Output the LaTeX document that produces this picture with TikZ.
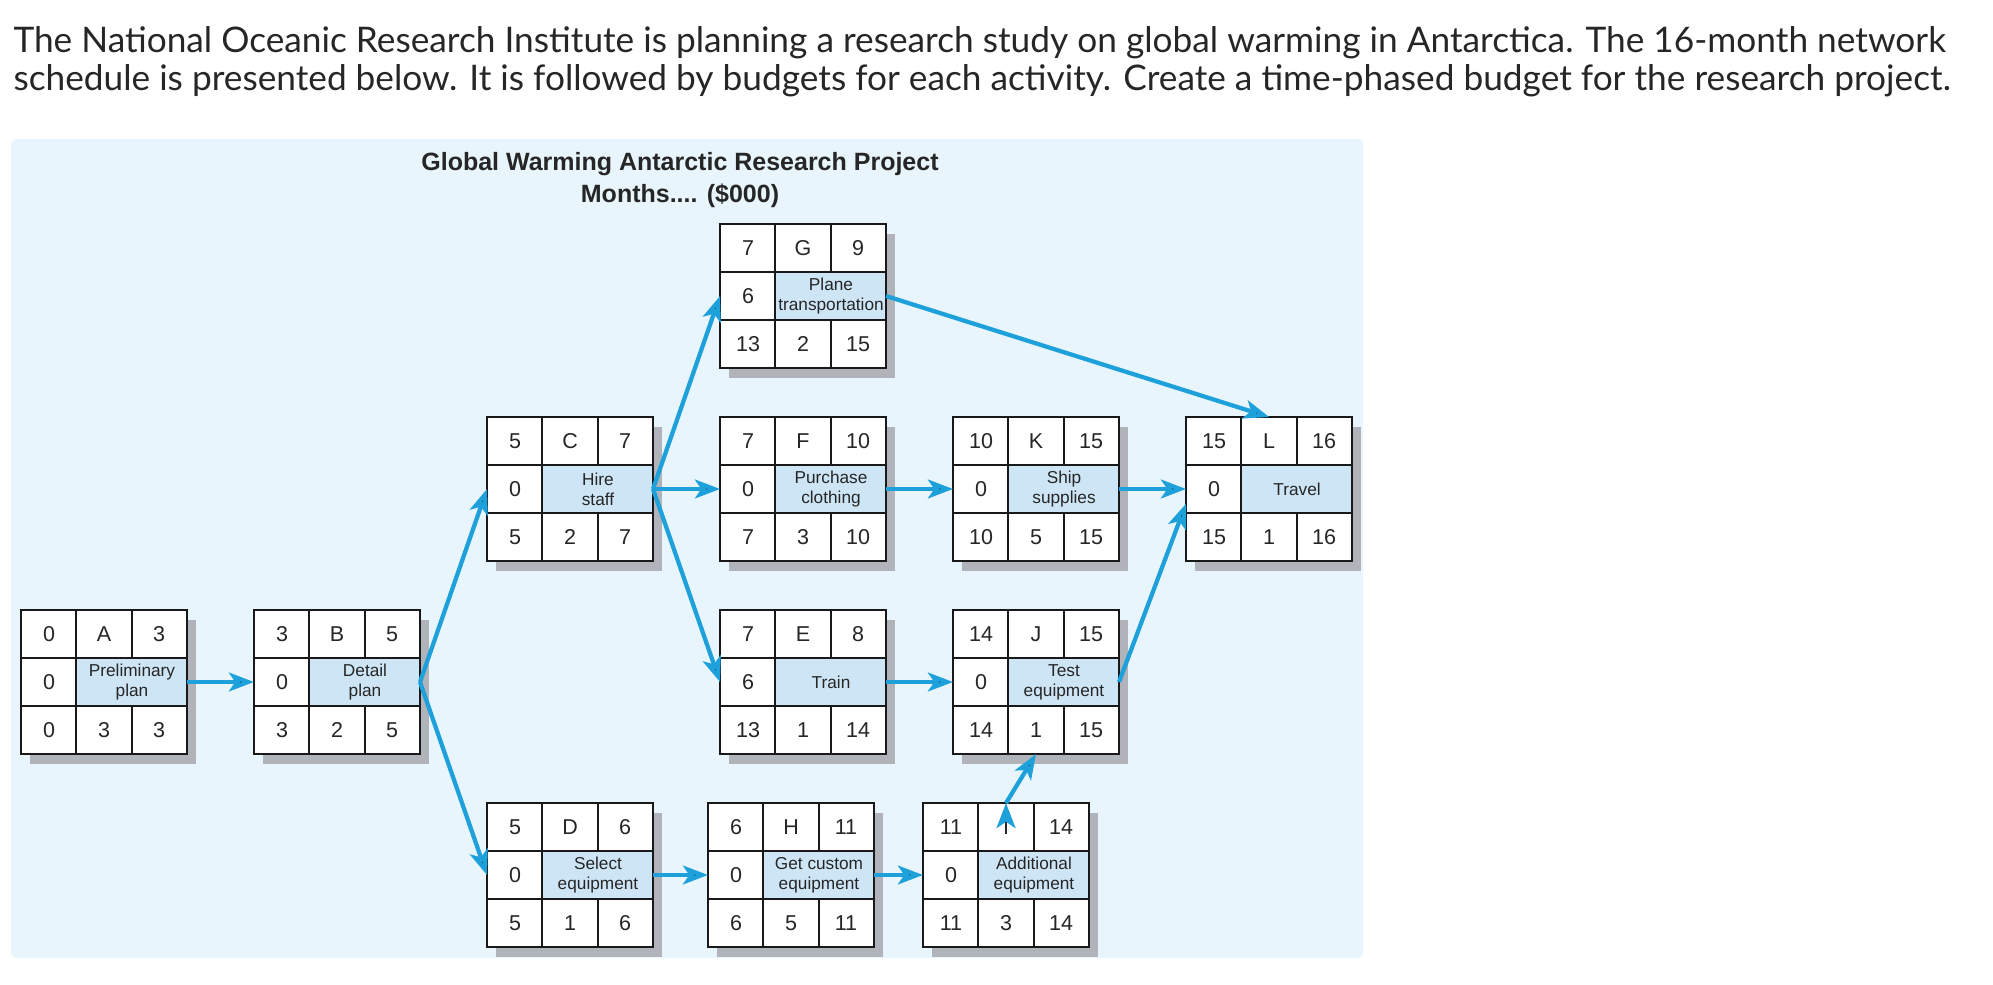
\documentclass[tikz,border=0pt]{standalone}
\usepackage{fontspec}
\setmainfont{Liberation Sans}
\newfontfamily\introfont{Lato}
\usepackage{tikz}
\usetikzlibrary{positioning,arrows.meta,shadows}

\definecolor{panelblue}{RGB}{232,245,253}
\definecolor{cellblue}{RGB}{205,229,245}
\definecolor{flowblue}{RGB}{30,160,219}
\definecolor{shadowgray}{RGB}{176,180,186}
\definecolor{inktext}{RGB}{38,38,38}

\tikzset{
  actbox/.style={rectangle, fill=white, minimum width=66.4pt, minimum height=57.6pt,
    inner sep=0pt, outer sep=0pt,
    drop shadow={shadow xshift=3.6pt, shadow yshift=-4pt, fill=shadowgray, opacity=1}},
  cellline/.style={draw=black!90, line width=0.8pt},
  num/.style={font=\fontsize{8.6}{10}\selectfont, text=inktext, inner sep=0pt},
  task/.style={font=\fontsize{6.9}{8}\selectfont, text=inktext, align=center, inner sep=0pt},
  flow/.style={draw=flowblue, line width=1.7pt, -{Stealth[length=10pt,width=7.5pt,inset=2.5pt]}},
  introtext/.style={anchor=base west, inner sep=0pt, text=inktext,
    font=\introfont\fontsize{14.1}{17}\selectfont},
  titletext/.style={anchor=base, inner sep=0pt, text=black!85,
    font=\bfseries\fontsize{10}{12}\selectfont}
}

% name, placement, ES, EF, slack, task, LS, duration, LF
\newcommand{\netact}[9]{%
  \node[actbox] (#1) [#2] {};
  \fill[cellblue] ([shift={(55,-24)}]#1.west) rectangle ([shift={(166,24)}]#1.west);
  \draw[cellline] (#1.north west) rectangle (#1.south east)
    ([shift={(0,-24)}]#1.west) -- ([shift={(0,-24)}]#1.east)
    ([shift={(0,24)}]#1.west) -- ([shift={(0,24)}]#1.east)
    ([shift={(55,0)}]#1.north west) -- ([shift={(55,0)}]#1.south west)
    ([shift={(111,0)}]#1.north west) -- ++(0,48)
    ([shift={(111,0)}]#1.south west) -- ++(0,-48);
  \node[num] at ([shift={(-55,-48)}]#1.center) {#3};
  \node[num] at ([shift={(0,-48)}]#1.center) {#1};
  \node[num] at ([shift={(55,-48)}]#1.center) {#4};
  \node[num] at ([shift={(-55,0)}]#1.center) {#5};
  \node[task] at ([shift={(28,0)}]#1.center) {#6};
  \node[num] at ([shift={(-55,48)}]#1.center) {#7};
  \node[num] at ([shift={(0,48)}]#1.center) {#8};
  \node[num] at ([shift={(55,48)}]#1.center) {#9};
}

\begin{document}
\begin{tikzpicture}[x=0.4pt,y=-0.4pt,on grid,node distance=77.2pt and 93.2pt]
  \useasboundingbox (0,0) rectangle (1993,985);

  \node[introtext] (intro1) at (13,53) {The National Oceanic Research Institute is planning a research study on global warming in Antarctica. The 16-month network};
  \node[introtext] (intro2) at (13,91) {schedule is presented below. It is followed by budgets for each activity. Create a time-phased budget for the research project.};

  \fill[panelblue, rounded corners=2pt] (11,139) rectangle (1363,958);

  \node[titletext] (title) at (680,171) {Global Warming Antarctic Research Project};
  \node[titletext] (months) at (680,203) {Months.... (\$000)};

  \netact{A}{at={(104,682)}}{0}{3}{0}{Preliminary\\plan}{0}{3}{3}
  \netact{B}{right=of A}{3}{5}{0}{Detail\\plan}{3}{2}{5}
  \netact{C}{above right=of B}{5}{7}{0}{Hire\\staff}{5}{2}{7}
  \netact{D}{below right=of B}{5}{6}{0}{Select\\equipment}{5}{1}{6}
  \netact{F}{right=of C}{7}{10}{0}{Purchase\\clothing}{7}{3}{10}
  \netact{G}{above=of F}{7}{9}{6}{Plane\\transportation}{13}{2}{15}
  \netact{E}{below=of F}{7}{8}{6}{Train}{13}{1}{14}
  \netact{K}{right=of F}{10}{15}{0}{Ship\\supplies}{10}{5}{15}
  \netact{L}{right=of K}{15}{16}{0}{Travel}{15}{1}{16}
  \netact{J}{below=of K}{14}{15}{0}{Test\\equipment}{14}{1}{15}
  \netact{H}{right=88.4pt of D}{6}{11}{0}{Get custom\\equipment}{6}{5}{11}
  \netact{I}{right=86pt of H}{11}{14}{0}{Additional\\equipment}{11}{3}{14}

  \path[flow]
    (A.east) edge (B.west)
    (B.east) edge (C.west)
             edge (D.west)
    (C.east) edge (G.west)
             edge (F.west)
             edge (E.west)
    (G.east) edge (L.north)
    (F.east) edge (K.west)
    (K.east) edge (L.west)
    (E.east) edge (J.west)
    (J.east) edge (L.190)
    (D.east) edge (H.west)
    (H.east) edge (I.west)
    (I.north) edge (J.south);
\end{tikzpicture}
\end{document}
